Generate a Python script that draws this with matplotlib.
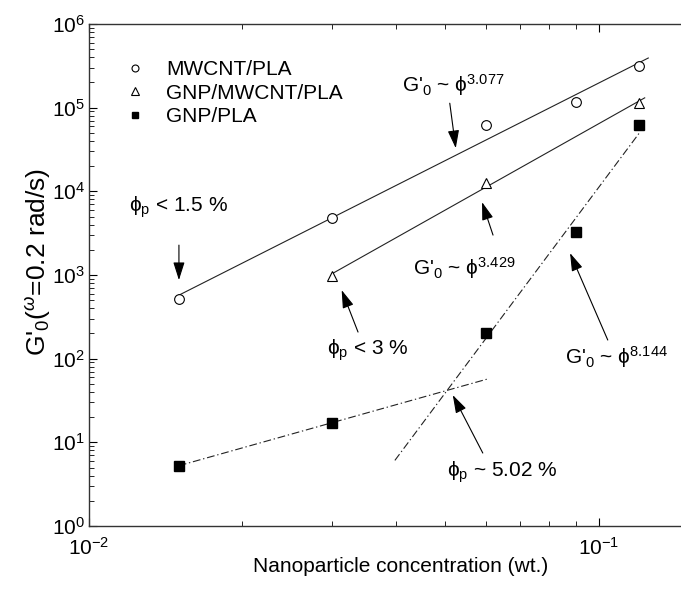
import numpy as np
import matplotlib
matplotlib.use('Agg')
from matplotlib import pyplot as plt
from matplotlib.lines import Line2D

plt.rcParams['font.family'] = ['Liberation Sans', 'DejaVu Sans']
plt.rcParams['mathtext.fontset'] = 'custom'
plt.rcParams['mathtext.rm'] = 'Liberation Sans'
plt.rcParams['mathtext.it'] = 'Liberation Sans:italic'
plt.rcParams['mathtext.bf'] = 'Liberation Sans:bold'

# 数据
conc = [0.015, 0.03, 0.06, 0.09, 0.12]
g_mwcnt = [515, 4840, 61600, 116000, 315000]
conc_hybrid = [0.03, 0.06, 0.12]
g_hybrid = [975, 12700, 113000]
g_gnp = [5.25, 17.2, 202, 3290, 61600]

# 拟合线的范围
mwcnt_range = [0.015, 0.125]
hybrid_range = [0.03, 0.123]
gnp_low_range = [0.015, 0.0603]
gnp_high_range = [0.0398, 0.12]


def fit_line(x, y, xr):
    k, b = np.polyfit(np.log10(x), np.log10(y), 1)
    xr = np.array(xr)
    return xr, 10 ** (k * np.log10(xr) + b)


fig = plt.figure(figsize=(6.81, 5.90), dpi=100)
ax = fig.add_axes([89 / 681, 64 / 590, 1 - 89 / 681, 502 / 590])
ax.set_xscale('log')
ax.set_yscale('log')

lc = '#222222'
dashdot = (0, (7, 2.5, 1.2, 2.5))

# 拟合线
ax.plot(*fit_line(conc, g_mwcnt, mwcnt_range), color=lc, lw=0.8)
ax.plot(*fit_line(conc_hybrid, g_hybrid, hybrid_range), color=lc, lw=0.8)
ax.plot(*fit_line(conc[:2], g_gnp[:2], gnp_low_range), color=lc, lw=0.8, linestyle=dashdot)
ax.plot(*fit_line(conc[2:], g_gnp[2:], gnp_high_range), color=lc, lw=0.8, linestyle=dashdot)

# 数据点
ax.plot(conc, g_mwcnt, 'o', ms=7, mfc='white', mec='black', mew=0.8)
ax.plot(conc_hybrid, g_hybrid, '^', ms=7.5, mfc='white', mec='black', mew=0.8)
ax.plot(conc, g_gnp, 's', ms=6.5, mfc='black', mec='black')

ax.set_xlim(0.01, 0.1449)
ax.set_ylim(1, 1e6)

# 坐标轴样式
ax.spines['right'].set_visible(False)
for s in ['left', 'bottom', 'top']:
    ax.spines[s].set_linewidth(1.0)
    ax.spines[s].set_color('#333333')
ax.tick_params(which='both', direction='in', top=True, right=False, labelsize=15)
ax.tick_params(axis='x', pad=8)
ax.tick_params(axis='y', pad=3)
ax.tick_params(which='major', length=6)
ax.tick_params(which='minor', length=3.5)
ax.yaxis.set_minor_locator(matplotlib.ticker.LogLocator(base=10, subs=np.arange(2, 10), numticks=20))
ax.yaxis.set_minor_formatter(matplotlib.ticker.NullFormatter())
ax.xaxis.set_minor_formatter(matplotlib.ticker.NullFormatter())

ax.set_xlabel('Nanoparticle concentration (wt.)', fontsize=15)
ax.xaxis.set_label_coords(0.527, -0.062)
ax.set_ylabel(r"G'$_0$($^{\omega}$=0.2 rad/s)", fontsize=19)
ax.yaxis.set_label_coords(-0.061, 0.526)

# 图例
handles = [
    Line2D([], [], marker='o', ls='none', ms=5, mfc='white', mec='black', mew=0.8),
    Line2D([], [], marker='^', ls='none', ms=5.5, mfc='white', mec='black', mew=0.8),
    Line2D([], [], marker='s', ls='none', ms=5, mfc='black', mec='black'),
]
ax.legend(handles, ['MWCNT/PLA', 'GNP/MWCNT/PLA', 'GNP/PLA'], loc='upper left',
          bbox_to_anchor=(0.046, 0.945), frameon=False, fontsize=15,
          handlelength=1.0, handletextpad=1.0, labelspacing=0.22, borderaxespad=0)

# 标注
arrow = dict(arrowstyle='-|>,head_length=1.1,head_width=0.35', color='black', lw=0.8,
             shrinkA=0, shrinkB=0)
fs = 15
phi = r'\mathrm{\phi}'
ax.text(0.0411, 186000, r"G'$_0$ ~ $%s^{3.077}$" % phi, fontsize=fs, va='center')
ax.annotate('', xy=(0.0524, 32800), xytext=(0.0510, 113000), arrowprops=arrow)

ax.text(0.0120, 6470, r"$%s_{\rm p}$ < 1.5 %%" % phi, fontsize=fs, va='center')
ax.annotate('', xy=(0.01501, 869), xytext=(0.01501, 2276), arrowprops=arrow)

ax.text(0.0432, 1210, r"G'$_0$ ~ $%s^{3.429}$" % phi, fontsize=fs, va='center')
ax.annotate('', xy=(0.0590, 7430), xytext=(0.0620, 3000), arrowprops=arrow)

ax.text(0.02927, 127, r"$%s_{\rm p}$ < 3 %%" % phi, fontsize=fs, va='center')
ax.annotate('', xy=(0.0313, 660), xytext=(0.0337, 208), arrowprops=arrow)

ax.text(0.0858, 104, r"G'$_0$ ~ $%s^{8.144}$" % phi, fontsize=fs, va='center')
ax.annotate('', xy=(0.0878, 1827), xytext=(0.1041, 167), arrowprops=arrow)

ax.text(0.0503, 4.42, r"$%s_{\rm p}$ ~ 5.02 %%" % phi, fontsize=fs, va='center')
ax.annotate('', xy=(0.0517, 36.7), xytext=(0.0592, 7.45), arrowprops=arrow)

plt.savefig('out.png', dpi=100)
